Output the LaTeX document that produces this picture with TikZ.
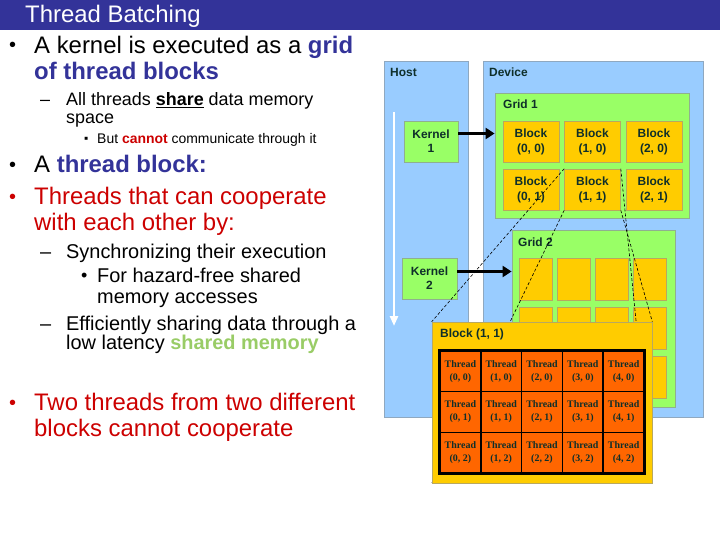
\documentclass[tikz,border=0pt]{standalone}
\usepackage{fontspec}
\setmainfont{Liberation Sans}
\newfontfamily\threadfont{Liberation Serif}
\usetikzlibrary{arrows.meta,positioning}

\definecolor{barblue}{HTML}{333399}
\definecolor{alertred}{HTML}{CC0000}
\definecolor{sharedgreen}{HTML}{99CC66}
\definecolor{hostblue}{HTML}{99CCFF}
\definecolor{hostedge}{HTML}{8FA8C0}
\definecolor{gridgreen}{HTML}{99FF66}
\definecolor{gridedge}{HTML}{8FB08F}
\definecolor{blockgold}{HTML}{FFCC00}
\definecolor{blockedge}{HTML}{B8A860}
\definecolor{threadorange}{HTML}{FF6600}
\definecolor{labelink}{HTML}{0F2F2A}

\begin{document}
\begin{tikzpicture}[x=1bp,y=-1bp]
\tikzset{
  bartext/.style={anchor=base west,inner sep=0pt,text=white,font=\fontsize{24}{26}\selectfont},
  itemmark/.style={anchor=base west,inner sep=0pt,font=\fontsize{20}{20}\selectfont},
  itemone/.style={anchor=base west,inner sep=0pt,align=left,font=\fontsize{24}{26.5}\selectfont},
  itemtwo/.style={anchor=base west,inner sep=0pt,align=left,font=\fontsize{18}{18}\selectfont},
  itemthree/.style={anchor=base west,inner sep=0pt,align=left,font=\fontsize{14}{16}\selectfont},
  itemmid/.style={anchor=base west,inner sep=0pt,align=left,font=\fontsize{20}{21.5}\selectfont},
  areabox/.style={draw=hostedge,fill=hostblue,line width=0.8bp,inner sep=0pt},
  gridbox/.style={draw=gridedge,fill=gridgreen,line width=0.8bp,inner sep=0pt},
  kernelbox/.style={gridbox,align=center,text=labelink,font=\bfseries\fontsize{12}{14}\selectfont,minimum height=41bp},
  blockbox/.style={draw=blockedge,fill=blockgold,line width=0.6bp,inner sep=0pt,align=center,text=labelink,font=\bfseries\fontsize{12}{15}\selectfont},
  threadcell/.style={draw=black,fill=threadorange,line width=1.6bp,inner sep=0pt,align=center,text=labelink,
    minimum width=40.8bp,minimum height=40.7bp,font=\threadfont\bfseries\fontsize{10}{13}\selectfont},
  boxlabel/.style={anchor=west,inner sep=0pt,text=labelink,font=\bfseries\fontsize{12}{14}\selectfont},
  kernelarrow/.style={draw=black,line width=3bp,-{Triangle[length=9bp,width=11bp]}},
  timearrow/.style={draw=white,line width=2.6bp,-{Triangle[length=10bp,width=8bp]}},
  zoomline/.style={draw=black,line width=0.6bp,dash pattern=on 3bp off 2bp}
}
\useasboundingbox (0,0) rectangle (720,540);

% title bar
\fill[barblue] (0,0) rectangle (720,30);
\node[bartext] (title) at (25,23) {Thread Batching};

% left hand text (multi-line nodes sit on their last baseline)
\node[itemmark] (mark_a) at (9,52) {•};
\node[itemone] (item_a) at (34,80) {A kernel is executed as a \textbf{\color{barblue}grid}\\\textbf{\color{barblue}of thread blocks}};
\node[itemmark,font=\fontsize{18}{18}\selectfont] (mark_b) at (40,105.5) {–};
\node[itemtwo] (item_b) at (66,123.5) {All threads \underline{\textbf{share}} data memory\\space};
\node[itemmark,font=\fontsize{12}{14}\selectfont] (mark_c) at (84,143) {▪};
\node[itemthree] (item_c) at (97,143.5) {But \textbf{\color{alertred}cannot} communicate through it};
\node[itemmark] (mark_d) at (9,172) {•};
\node[itemone] (item_d) at (34,173) {A \textbf{\color{barblue}thread block:}};
\node[itemmark,text=alertred] (mark_e) at (9,204) {•};
\node[itemone,text=alertred] (item_e) at (34,231) {Threads that can cooperate\\with each other by:};
\node[itemmark] (mark_f) at (40,258.5) {–};
\node[itemmid] (item_f) at (66,258.5) {Synchronizing their execution};
\node[itemmark,font=\fontsize{18}{18}\selectfont] (mark_g) at (81,282) {•};
\node[itemmid] (item_g) at (97,303.5) {For hazard-free shared\\memory accesses};
\node[itemmark] (mark_h) at (40,330) {–};
\node[itemmid,font=\fontsize{20}{19}\selectfont] (item_h) at (66,349) {Efficiently sharing data through a\\low latency \textbf{\color{sharedgreen}shared memory}};
\node[itemmark,text=alertred] (mark_i) at (9,409) {•};
\node[itemone,text=alertred] (item_i) at (34,436.5) {Two threads from two different\\blocks cannot cooperate};

% host and device
\node[areabox,minimum width=84bp,minimum height=356bp] (host) at (426,239) {};
\node[areabox,minimum width=220bp,minimum height=356bp] (device) at (593,239) {};
\node[boxlabel] (host_lbl) at (390,72) {Host};
\node[boxlabel] (device_lbl) at (489,72) {Device};
\coordinate (time_top) at (394,112);
\coordinate (time_end) at (394,326);
\draw[timearrow] (time_top) -- (time_end);

% kernels
\node[kernelbox,minimum width=54bp] (kernel1) at (431,141.5) {Kernel\\1};
\node[kernelbox,minimum width=55bp] (kernel2) at (429.5,278.5) {Kernel\\2};

% grid 1
\node[gridbox,minimum width=194bp,minimum height=125bp] (grid1) at (592,155.5) {};
\node[boxlabel] (grid1_lbl) at (503,104) {Grid 1};
\foreach \col in {0,1,2}
  \foreach \row in {0,1}
    \node[blockbox,minimum width=56bp,minimum height=41bp] (blk_\col_\row) at ({531+61.5*\col},{141.5+48*\row}) {Block\\(\col, \row)};

% grid 2
\node[gridbox,minimum width=163bp,minimum height=177bp] (grid2) at (593.5,318.5) {};
\node[boxlabel] (grid2_lbl) at (518,242) {Grid 2};
\foreach \col in {0,...,3}
  \foreach \row in {0,1,2}
    \node[blockbox,minimum width=33bp,minimum height=42bp] (gblk_\col_\row) at ({535.5+38.2*\col},{279.5+49*\row}) {};

% launches
\coordinate (k1_out) at ([yshift=8bp]kernel1.east);
\coordinate (k2_out) at ([yshift=7bp]kernel2.east);
\draw[kernelarrow] (k1_out) -- (k1_out -| grid1.west);
\draw[kernelarrow] (k2_out) -- (k2_out -| grid2.west);

% zoomed block
\node[blockbox,minimum width=220bp,minimum height=161bp] (blk_zoom) at (542,402.5) {};
\draw[zoomline] (blk_1_1.north west) -- (blk_zoom.north west);
\draw[zoomline] (blk_1_1.south west) -- (blk_zoom.south west);
\draw[zoomline] (blk_1_1.north east) -- (blk_zoom.south east);
\draw[zoomline] (blk_1_1.south east) -- (blk_zoom.north east);
\node[blockbox,minimum width=220bp,minimum height=161bp] at (blk_zoom) {};
\node[boxlabel] (zoom_lbl) at (440,334) {Block (1, 1)};
\foreach \col in {0,...,4}
  \foreach \row in {0,1,2}
    \node[threadcell] (thr_\col_\row) at ({460.4+40.8*\col},{371.3+40.7*\row}) {Thread\\(\col, \row)};
\draw[black,line width=2.4bp] (thr_0_0.north west) rectangle (thr_4_2.south east);
\end{tikzpicture}
\end{document}
